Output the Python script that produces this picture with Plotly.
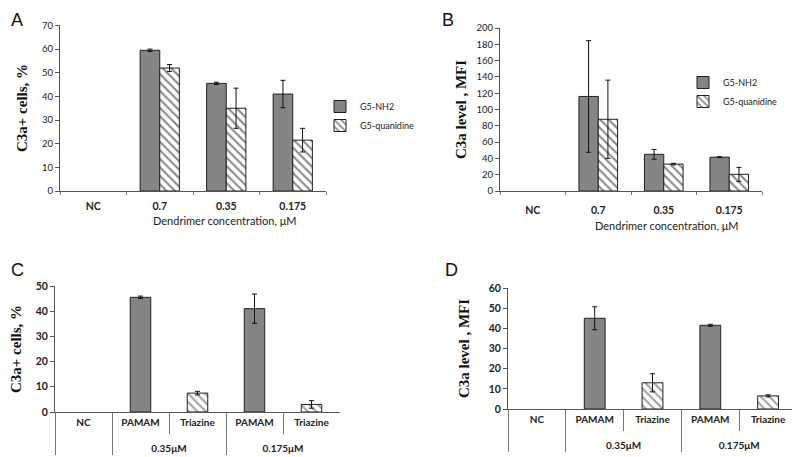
import plotly.graph_objects as go

# ---------------- data ----------------
conc_cats = ["NC", "0.7", "0.35", "0.175"]

a_nh2 = [None, 59.5, 45.5, 41.0]
a_nh2_err = [None, 0.5, 0.5, 5.8]
a_quan = [None, 52.0, 35.0, 21.5]
a_quan_err = [None, 1.5, 8.5, 5.0]

b_nh2 = [None, 116.0, 45.0, 41.5]
b_nh2_err = [None, 68.5, 6.0, 0.5]
b_quan = [None, 88.0, 33.0, 20.5]
b_quan_err = [None, 48.0, 1.0, 8.5]

cd_outer = ["", "0.35μM", "0.35μM", "0.175μM", "0.175μM"]
cd_inner = ["NC", "PAMAM", "Triazine", "PAMAM", "Triazine"]
c_vals = [None, 45.5, 7.5, 41.0, 3.0]
c_err = [None, 0.5, 0.7, 5.8, 1.5]
d_vals = [None, 45.0, 13.0, 41.5, 6.5]
d_err = [None, 5.7, 4.5, 0.5, 0.5]

series_names = ["G5-NH2", "G5-quanidine"]

# ---------------- style ----------------
GRAY = "#858585"
EDGE = "#202020"
TICKFONT = dict(family="Lato", size=9.5, color="#222")
TITLEFONT = dict(family="Liberation Serif", size=15, color="#111", weight="bold")
CATFONT = dict(family="Lato", size=10.5, color="#222", weight="bold")
CDFONT = dict(family="Lato", size=10, color="#222", weight="bold")

def solid_marker():
    return dict(color=GRAY, line=dict(color=EDGE, width=1))

def hatch_marker():
    return dict(color="white", line=dict(color=EDGE, width=1),
                pattern=dict(shape="\\", fgcolor="#111", bgcolor="white", size=6, solidity=0.35))

def err(arr):
    return dict(type="data", array=arr, visible=True, color="#111", thickness=1, width=2.5)

fig = go.Figure()

# Panel A
fig.add_trace(go.Bar(x=conc_cats, y=a_nh2, error_y=err(a_nh2_err), name=series_names[0],
                     marker=solid_marker(), xaxis="x", yaxis="y", legend="legend"))
fig.add_trace(go.Bar(x=conc_cats, y=a_quan, error_y=err(a_quan_err), name=series_names[1],
                     marker=hatch_marker(), xaxis="x", yaxis="y", legend="legend"))
# Panel B
fig.add_trace(go.Bar(x=conc_cats, y=b_nh2, error_y=err(b_nh2_err), name=series_names[0],
                     marker=solid_marker(), xaxis="x2", yaxis="y2", legend="legend2"))
fig.add_trace(go.Bar(x=conc_cats, y=b_quan, error_y=err(b_quan_err), name=series_names[1],
                     marker=hatch_marker(), xaxis="x2", yaxis="y2", legend="legend2"))

# Panels C / D (single trace, per-bar fill); outer labels get a leading line break
# so the group row sits lower, like the table under the reference axis
cd_outer_lbl = [("<br>" + g) if g else g for g in cd_outer]
cd_colors = [GRAY if n == "PAMAM" else "white" for n in cd_inner]
cd_shapes = ["" if n == "PAMAM" else "\\" for n in cd_inner]
def cd_marker():
    return dict(color=cd_colors, line=dict(color=EDGE, width=1),
                pattern=dict(shape=cd_shapes, fgcolor="#111", bgcolor="white", size=6, solidity=0.35))

fig.add_trace(go.Bar(x=[cd_outer_lbl, cd_inner], y=c_vals, error_y=err(c_err), width=0.36,
                     marker=cd_marker(), showlegend=False, xaxis="x3", yaxis="y3"))
fig.add_trace(go.Bar(x=[cd_outer_lbl, cd_inner], y=d_vals, error_y=err(d_err), width=0.36,
                     marker=cd_marker(), showlegend=False, xaxis="x4", yaxis="y4"))

# page has an 8px body margin: figure pixel = page pixel - 8
OFF = 8
W, H = 792, 449
def px(a):
    return (a - OFF) / W
def py(a):
    return 1 - (a - OFF) / H
def dom_x(a, b):
    return [px(a), px(b)]
def dom_y(top, bottom):
    return [py(bottom), py(top)]

yaxis_common = dict(showline=True, linecolor="#555", linewidth=1, ticks="outside", ticklen=4,
                    tickcolor="#555", showgrid=False, zeroline=False, tickfont=TICKFONT,
                    automargin=False)
xaxis_common = dict(showline=True, linecolor="#555", linewidth=1, showgrid=False, zeroline=False,
                    automargin=False)

fig.update_layout(
    width=W, height=H, margin=dict(l=0, r=0, t=0, b=0),
    paper_bgcolor="white", plot_bgcolor="white",
    barmode="group", bargap=0.41, bargroupgap=0,
    xaxis=dict(domain=dom_x(60, 326), anchor="y", ticks="outside", tickson="boundaries", ticklen=3,
               tickcolor="#777", ticklabelstandoff=5, tickfont=CATFONT, **xaxis_common),
    yaxis=dict(domain=dom_y(25, 191), anchor="x", range=[0, 70.2], dtick=10,
               title=dict(text="C3a+ cells, %", font=TITLEFONT, standoff=10), **yaxis_common),
    xaxis2=dict(domain=dom_x(500, 762), anchor="y2", ticks="outside", tickson="boundaries", ticklen=3,
                tickcolor="#777", ticklabelstandoff=9, tickfont=CATFONT, **xaxis_common),
    yaxis2=dict(domain=dom_y(28, 191), anchor="x2", range=[0, 200], dtick=20,
                title=dict(text="C3a level , MFI", font=TITLEFONT, standoff=6), **yaxis_common),
    xaxis3=dict(domain=dom_x(55, 340), anchor="y3", ticks="outside", tickson="boundaries",
                ticklen=21, tickcolor="#777", showdividers=True, dividercolor="#777", dividerwidth=1,
                ticklabelstandoff=1, tickfont=CDFONT, **xaxis_common),
    yaxis3=dict(domain=dom_y(286, 412), anchor="x3", range=[0, 50], dtick=10,
                title=dict(text="C3a+ cells, %", font=TITLEFONT, standoff=10),
                **{**yaxis_common, "tickfont": CATFONT}),
    xaxis4=dict(domain=dom_x(508, 797), anchor="y4", ticks="outside", tickson="boundaries",
                ticklen=21, tickcolor="#777", showdividers=True, dividercolor="#777", dividerwidth=1,
                ticklabelstandoff=1, tickfont=CDFONT, **xaxis_common),
    yaxis4=dict(domain=dom_y(288, 409), anchor="x4", range=[0, 60], dtick=10,
                title=dict(text="C3a level , MFI", font=TITLEFONT, standoff=15),
                **{**yaxis_common, "tickfont": CATFONT}),
    legend=dict(x=px(320), y=py(92), xanchor="left", yanchor="top",
                font=dict(family="Lato", size=9, color="#222"), bgcolor="rgba(0,0,0,0)",
                itemwidth=30, tracegroupgap=0),
    legend2=dict(x=px(683), y=py(68), xanchor="left", yanchor="top",
                 font=dict(family="Lato", size=9, color="#222"), bgcolor="rgba(0,0,0,0)",
                 itemwidth=30, tracegroupgap=0),
    annotations=[
        dict(text="Dendrimer concentration, μM", x=px(225), y=py(220), xref="paper", yref="paper",
             xanchor="center", yanchor="middle",
             showarrow=False, font=dict(family="Lato", size=11, color="#222")),
        dict(text="Dendrimer concentration, μM", x=px(667), y=py(225), xref="paper", yref="paper",
             xanchor="center", yanchor="middle",
             showarrow=False, font=dict(family="Lato", size=11, color="#222")),
        dict(text="A", x=px(9), y=1, xref="paper", yref="paper", xanchor="left", yanchor="top",
             showarrow=False, font=dict(family="Liberation Sans", size=18, color="#111")),
        dict(text="B", x=px(440), y=1, xref="paper", yref="paper", xanchor="left", yanchor="top",
             showarrow=False, font=dict(family="Liberation Sans", size=18, color="#111")),
        dict(text="C", x=px(9), y=py(258), xref="paper", yref="paper", xanchor="left", yanchor="top",
             showarrow=False, font=dict(family="Liberation Sans", size=18, color="#111")),
        dict(text="D", x=px(443), y=py(258), xref="paper", yref="paper", xanchor="left", yanchor="top",
             showarrow=False, font=dict(family="Liberation Sans", size=18, color="#111")),
    ],
)

fig.write_html("out.html")
